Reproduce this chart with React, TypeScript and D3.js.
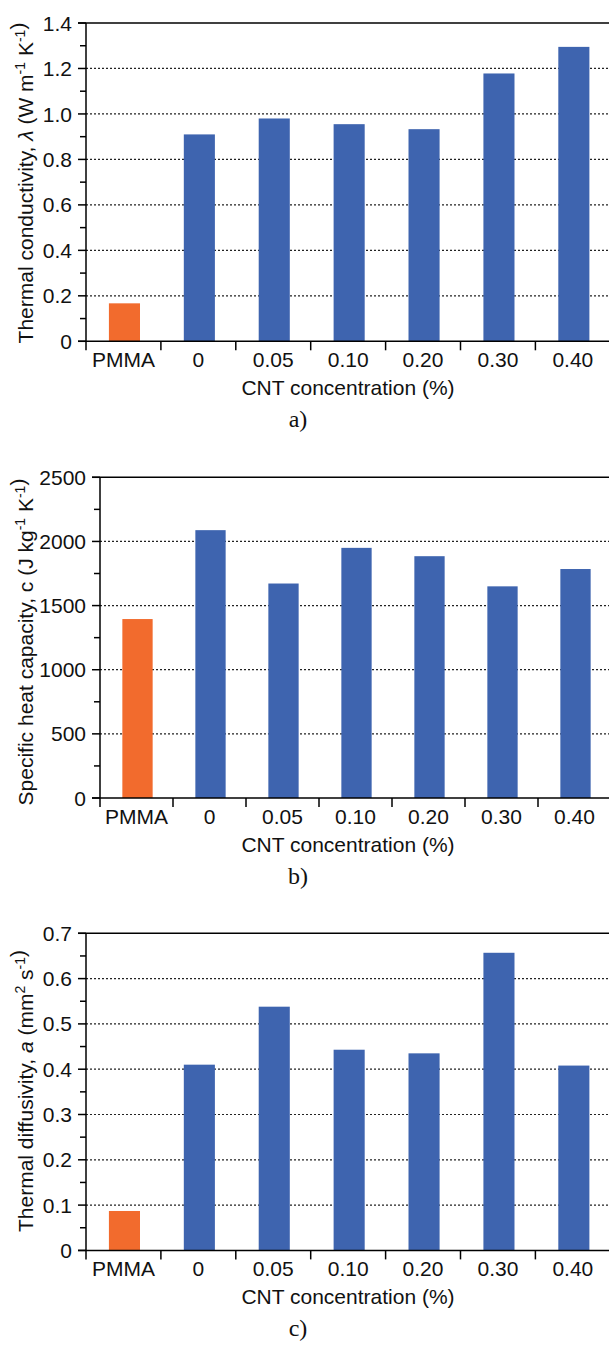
import React from "react";
import * as d3 from "d3";

const categories = ["PMMA", "0", "0.05", "0.10", "0.20", "0.30", "0.40"];
const conductivity = [0.167, 0.91, 0.98, 0.955, 0.933, 1.178, 1.295];
const heatCapacity = [1395, 2088, 1672, 1950, 1885, 1650, 1785];
const diffusivity = [0.087, 0.41, 0.538, 0.443, 0.435, 0.657, 0.408];
const ticksA = [0, 0.2, 0.4, 0.6, 0.8, 1.0, 1.2, 1.4];
const ticksB = [0, 500, 1000, 1500, 2000, 2500];
const ticksC = [0, 0.1, 0.2, 0.3, 0.4, 0.5, 0.6, 0.7];
const xTitle = "CNT concentration (%)";

const SANS = "'Liberation Sans', Arial, Helvetica, sans-serif";
const SERIF = "'Liberation Serif', 'Times New Roman', serif";
const BLUE = "#3E64AF";
const ORANGE = "#F26B2D";

type PanelProps = {
  top: number;
  axisY: number;
  left: number;
  bandW: number;
  ticks: number[];
  minorStep: number;
  values: number[];
  fmt: (v: number) => string;
  title: React.ReactNode;
  titleY: number;
  caption: string;
};

function Panel(p: PanelProps) {
  const yMax = p.ticks[p.ticks.length - 1];
  const y = d3.scaleLinear().domain([0, yMax]).range([p.axisY, p.top]);
  const x = d3
    .scaleBand<string>()
    .domain(categories)
    .range([p.left, p.left + p.bandW * categories.length])
    .paddingInner(0)
    .paddingOuter(0);
  const bw = x.bandwidth();
  const barW = bw * 0.415;
  const minor = d3.range(0, yMax + 1e-9, p.minorStep).filter(
    (v) => !p.ticks.some((t) => Math.abs(t - v) < 1e-9)
  );
  const xEnd = 609;
  return (
    <g>
      {p.ticks.slice(1, -1).map((t) => (
        <line
          key={"g" + t}
          x1={p.left}
          x2={xEnd}
          y1={y(t)}
          y2={y(t)}
          stroke="#222"
          strokeWidth={1.2}
          strokeDasharray="2,2"
        />
      ))}
      {categories.map((c, i) => (
        <rect
          key={"b" + c}
          x={(x(c) as number) + bw / 2 - barW / 2 + 1}
          y={y(p.values[i])}
          width={barW}
          height={p.axisY - y(p.values[i])}
          fill={i === 0 ? ORANGE : BLUE}
        />
      ))}
      <line x1={p.left - 8} x2={xEnd} y1={p.top} y2={p.top} stroke="#000" strokeWidth={1.6} />
      <line x1={p.left} x2={p.left} y1={p.top} y2={p.axisY + 9} stroke="#000" strokeWidth={1.5} />
      {p.ticks.map((t) => (
        <g key={"t" + t}>
          <line x1={p.left - 8} x2={p.left} y1={y(t)} y2={y(t)} stroke="#000" strokeWidth={1.5} />
          <text
            x={p.left - 14}
            y={y(t)}
            dy="0.36em"
            textAnchor="end"
            fontFamily={SANS}
            fontSize={21}
            fill="#111"
          >
            {p.fmt(t)}
          </text>
        </g>
      ))}
      {minor.map((t) => (
        <line key={"m" + t} x1={p.left - 6} x2={p.left} y1={y(t)} y2={y(t)} stroke="#000" strokeWidth={1.5} />
      ))}
      <line x1={p.left - 8} x2={xEnd} y1={p.axisY} y2={p.axisY} stroke="#000" strokeWidth={1.5} />
      {categories.map((c) => (
        <line
          key={"xt" + c}
          x1={(x(c) as number) + bw}
          x2={(x(c) as number) + bw}
          y1={p.axisY}
          y2={p.axisY + 9}
          stroke="#000"
          strokeWidth={1.5}
        />
      ))}
      {categories.map((c) => (
        <text
          key={"xl" + c}
          x={(x(c) as number) + bw / 2}
          y={p.axisY + 26}
          textAnchor="middle"
          fontFamily={SANS}
          fontSize={21}
          fill="#111"
        >
          {c}
        </text>
      ))}
      <text x={348} y={p.axisY + 54} textAnchor="middle" fontFamily={SANS} fontSize={21} fill="#111">
        {xTitle}
      </text>
      <text x={298} y={p.axisY + 86} textAnchor="middle" fontFamily={SERIF} fontSize={24} fill="#111">
        {p.caption}
      </text>
      <text
        transform={`translate(33,${p.titleY}) rotate(-90)`}
        textAnchor="middle"
        fontFamily={SANS}
        fontSize={21}
        fill="#111"
      >
        {p.title}
      </text>
    </g>
  );
}

const Sup = ({ t, last }: { t: string; last?: boolean }) => (
  <>
    <tspan dy={-8} fontSize={14}>
      {t}
    </tspan>
    <tspan dy={8}>{last ? "" : " "}</tspan>
  </>
);

export default function App() {
  const f1 = (v: number) => (v === 0 ? "0" : d3.format(".1f")(v));
  const f0 = (v: number) => String(v);
  return (
    <div style={{ position: "absolute", left: 0, top: 0 }}>
      <svg width={609} height={1349} style={{ display: "block", background: "#fff" }}>
        <Panel
          top={23}
          axisY={341.3}
          left={86}
          bandW={74.9}
          ticks={ticksA}
          minorStep={0.1}
          values={conductivity}
          fmt={f1}
          titleY={183}
          caption="a)"
          title={
            <>
              <tspan>Thermal conductivity, </tspan>
              <tspan fontStyle="italic">λ</tspan>
              <tspan> (W m</tspan>
              <Sup t="-1" />
              <tspan>K</tspan>
              <Sup t="-1" last />
              <tspan>)</tspan>
            </>
          }
        />
        <Panel
          top={477.3}
          axisY={798}
          left={100}
          bandW={73}
          ticks={ticksB}
          minorStep={250}
          values={heatCapacity}
          fmt={f0}
          titleY={642}
          caption="b)"
          title={
            <>
              <tspan>Specific heat capacity, c (J kg</tspan>
              <Sup t="-1" />
              <tspan>K</tspan>
              <Sup t="-1" last />
              <tspan>)</tspan>
            </>
          }
        />
        <Panel
          top={933.3}
          axisY={1250.4}
          left={86}
          bandW={74.9}
          ticks={ticksC}
          minorStep={0.05}
          values={diffusivity}
          fmt={f1}
          titleY={1091}
          caption="c)"
          title={
            <>
              <tspan>Thermal diffusivity, </tspan>
              <tspan fontStyle="italic">a</tspan>
              <tspan> (mm</tspan>
              <Sup t="2" />
              <tspan>s</tspan>
              <Sup t="-1" last />
              <tspan>)</tspan>
            </>
          }
        />
      </svg>
    </div>
  );
}
